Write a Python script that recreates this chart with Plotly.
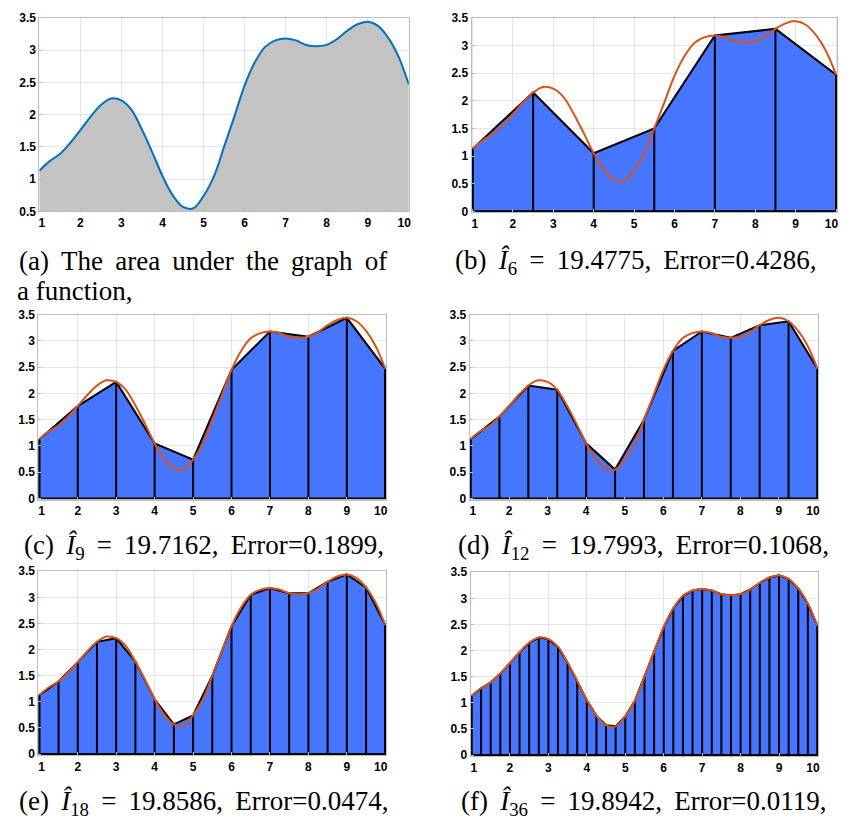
import plotly.graph_objects as go

# ---------------- data ----------------
x_grid = [1.0, 1.25, 1.5, 1.75, 2.0, 2.25, 2.5, 2.75, 3.0, 3.25, 3.5, 3.75,
          4.0, 4.25, 4.5, 4.75, 5.0, 5.25, 5.5, 5.75, 6.0, 6.25, 6.5, 6.75,
          7.0, 7.25, 7.5, 7.75, 8.0, 8.25, 8.5, 8.75, 9.0, 9.25, 9.5, 9.75, 10.0]
f_vals = [1.13, 1.28, 1.39, 1.56, 1.76, 1.97, 2.15, 2.25, 2.22, 2.07, 1.77, 1.42,
          1.05, 0.75, 0.57, 0.55, 0.74, 1.04, 1.50, 1.97, 2.45, 2.81, 3.05, 3.15,
          3.18, 3.15, 3.08, 3.06, 3.08, 3.17, 3.30, 3.40, 3.44, 3.375, 3.19, 2.90, 2.47]

x_ticks = [1, 2, 3, 4, 5, 6, 7, 8, 9, 10]
x_tick_text = ["1", "2", "3", "4", "5", "6", "7", "8", "9", "10"]
y_ticks_a = [0.5, 1, 1.5, 2, 2.5, 3, 3.5]
y_tick_text_a = ["0.5", "1", "1.5", "2", "2.5", "3", "3.5"]
y_ticks_b = [0, 0.5, 1, 1.5, 2, 2.5, 3, 3.5]
y_tick_text_b = ["0", "0.5", "1", "1.5", "2", "2.5", "3", "3.5"]

n_parts = [6, 9, 12, 18, 36]
letters = ["b", "c", "d", "e", "f"]
estimates = ["19.4775", "19.7162", "19.7993", "19.8586", "19.8942"]
errors = ["0.4286", "0.1899", "0.1068", "0.0474", "0.0119"]
caption_a = ["(a) The area under the graph of", "a function,"]

# ---------------- style / layout ----------------
W, H = 851, 828
BLUE_FILL = "rgb(70,117,255)"
ORANGE = "#D95319"
MBLUE = "#0072BD"
GRAY_FILL = "#c3c3c3"
GRID = "#e6e6e6"
BOX = "#bcbcbc"
EN, THIN, HAIR = "\u2002", "\u2009", "\u200a"
GAP = " " + THIN

# panel boxes in pixels: (left, right, top, bottom)
boxes = [(34, 411, 11, 208), (475, 848, 11, 209),
         (33, 388, 313, 501), (473, 829, 313, 501),
         (33, 388, 574, 761), (474, 829, 575, 762)]
cap_pos = [None, (642.5, 259), (202, 549), (651, 549), (202, 810), (651, 810)]

tickfont = dict(family="Liberation Sans, Arial, sans-serif", size=12, color="black")


def xlabels():
    out = []
    for j, t in enumerate(x_tick_text):
        if j == 0:
            t = THIN + THIN + t
        elif j == len(x_tick_text) - 1:
            t = t + "\u2007" + THIN
        out.append(f"<b>{t}</b>")
    return out


fig = go.Figure()


def axname(i):
    return "" if i == 0 else str(i + 1)


for i, (l, r, t, b) in enumerate(boxes):
    s = axname(i)
    xd = [l / W, r / W]
    yd = [1 - b / H, 1 - t / H]
    if i == 0:
        xr = [1, 10]
        yr = [0.5, 3.5]
        yt, ytt = y_ticks_a, y_tick_text_a
    else:
        xr = [0.975, 10.025]
        yr = [-0.02, 3.5]
        yt, ytt = y_ticks_b, y_tick_text_b
    fig.update_layout({
        f"xaxis{s}": dict(domain=xd, anchor=f"y{s}", range=xr, tickvals=x_ticks,
                          ticktext=xlabels(),
                          showgrid=True, gridcolor=GRID, gridwidth=1,
                          showline=True, linecolor=BOX, linewidth=1, mirror=True,
                          ticks="inside", ticklen=3, tickcolor=BOX,
                          tickfont=tickfont, zeroline=False, fixedrange=True),
        f"yaxis{s}": dict(domain=yd, anchor=f"x{s}", range=yr, tickvals=yt,
                          ticktext=[f"<b>{v}</b>" for v in ytt],
                          showgrid=True, gridcolor=GRID, gridwidth=1,
                          showline=True, linecolor=BOX, linewidth=1, mirror=True,
                          ticks="inside", ticklen=3, tickcolor=BOX,
                          tickfont=tickfont, zeroline=False, fixedrange=True),
    })

# panel (a): area under curve
fig.add_trace(go.Scatter(x=x_grid, y=f_vals, mode="lines",
                         line=dict(color=MBLUE, width=2, shape="spline"),
                         fill="tozeroy", fillcolor=GRAY_FILL,
                         xaxis="x", yaxis="y", showlegend=False, hoverinfo="skip"))

# panels (b)-(f): trapezoidal rule
for k, n in enumerate(n_parts):
    s = axname(k + 1)
    step = (len(x_grid) - 1) // n
    xs = x_grid[::step]
    ys = f_vals[::step]
    fig.add_trace(go.Scatter(x=xs + [xs[-1], xs[0], xs[0]], y=ys + [0, 0, ys[0]],
                             mode="lines", fill="toself", fillcolor=BLUE_FILL,
                             line=dict(color="black", width=2),
                             xaxis=f"x{s}", yaxis=f"y{s}", showlegend=False,
                             hoverinfo="skip"))
    xv, yv = [], []
    for xx, yy in zip(xs, ys):
        xv += [xx, xx, None]
        yv += [0, yy, None]
    fig.add_trace(go.Scatter(x=xv, y=yv, mode="lines",
                             line=dict(color="black", width=2),
                             xaxis=f"x{s}", yaxis=f"y{s}", showlegend=False,
                             hoverinfo="skip"))
    fig.add_trace(go.Scatter(x=x_grid, y=f_vals, mode="lines",
                             line=dict(color=ORANGE, width=2, shape="spline"),
                             xaxis=f"x{s}", yaxis=f"y{s}", showlegend=False,
                             hoverinfo="skip"))

capfont = dict(family="Liberation Serif, Times New Roman, serif", size=27, color="black")
annotations = []
annotations.append(dict(text=caption_a[0].replace(" ", " " + THIN), x=201 / W, y=1 - 258 / H,
                        xref="paper", yref="paper", xanchor="center", yanchor="middle",
                        showarrow=False, font=capfont))
annotations.append(dict(text=caption_a[1], x=9 / W, y=1 - 289 / H,
                        xref="paper", yref="paper", xanchor="left", yanchor="middle",
                        showarrow=False, font=capfont))
for k, n in enumerate(n_parts):
    cx, cy = cap_pos[k + 1]
    txt = (f"({letters[k]}){GAP}<i>Î</i><sub>{n}</sub>{GAP}={GAP}{estimates[k]},{GAP}"
           f"Error={errors[k]},")
    annotations.append(dict(text=txt, x=cx / W, y=1 - cy / H,
                            xref="paper", yref="paper", xanchor="center", yanchor="middle",
                            showarrow=False, font=capfont))

fig.update_layout(width=W, height=H, autosize=False,
                  margin=dict(l=0, r=0, t=0, b=0),
                  paper_bgcolor="white", plot_bgcolor="white",
                  annotations=annotations, showlegend=False)

fig.write_html("out.html", config={"displayModeBar": False},
               post_script="document.body.style.margin='0px';document.body.style.overflow='hidden';")
